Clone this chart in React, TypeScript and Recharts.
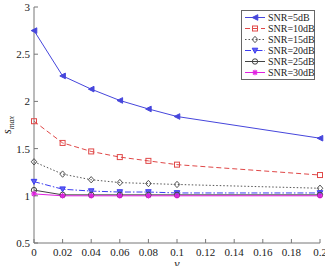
import React from 'react';
import { LineChart, Line, XAxis, YAxis, Label } from 'recharts';

const nu = [0, 0.02, 0.04, 0.06, 0.08, 0.1, 0.2];
const snr5 = [2.75, 2.27, 2.13, 2.01, 1.92, 1.84, 1.61];
const snr10 = [1.79, 1.56, 1.47, 1.41, 1.37, 1.33, 1.22];
const snr15 = [1.36, 1.23, 1.17, 1.14, 1.13, 1.12, 1.08];
const snr20 = [1.15, 1.07, 1.05, 1.04, 1.04, 1.03, 1.03];
const snr25 = [1.06, 1.01, 1.01, 1.01, 1.01, 1.01, 1.01];
const snr30 = [1.02, 1.0, 1.0, 1.0, 1.0, 1.0, 1.0];

const xTicks = [0, 0.02, 0.04, 0.06, 0.08, 0.1, 0.12, 0.14, 0.16, 0.18, 0.2];
const yTicks = [0.5, 1, 1.5, 2, 2.5, 3];

const data = nu.map((v, i) => ({
  nu: v,
  s5: snr5[i],
  s10: snr10[i],
  s15: snr15[i],
  s20: snr20[i],
  s25: snr25[i],
  s30: snr30[i],
}));

type Shape = 'left' | 'square' | 'diamond' | 'down' | 'circle' | 'star';

const SERIES: { key: string; name: string; color: string; dash?: string; shape: Shape; fill: string }[] = [
  { key: 's5', name: 'SNR=5dB', color: '#4646dc', shape: 'left', fill: '#4646dc' },
  { key: 's10', name: 'SNR=10dB', color: '#e04848', dash: '5 3', shape: 'square', fill: 'none' },
  { key: 's15', name: 'SNR=15dB', color: '#555555', dash: '1.5 2', shape: 'diamond', fill: 'none' },
  { key: 's20', name: 'SNR=20dB', color: '#3c3cf0', dash: '6 2 1.5 2', shape: 'down', fill: '#6060f0' },
  { key: 's25', name: 'SNR=25dB', color: '#444444', shape: 'circle', fill: 'none' },
  { key: 's30', name: 'SNR=30dB', color: '#e020e0', shape: 'star', fill: '#e020e0' },
];

const FONT = 'Liberation Serif';
const AXIS = '#777777';

function Marker({ cx, cy, shape, color, fill }: { cx: number; cy: number; shape: Shape; color: string; fill: string }) {
  const r = 2.8;
  if (shape === 'left')
    return <polygon points={`${cx - r},${cy} ${cx + r},${cy - r} ${cx + r},${cy + r}`} fill={fill} stroke={color} strokeWidth={1} />;
  if (shape === 'square')
    return <rect x={cx - 2.5} y={cy - 2.5} width={5} height={5} fill="none" stroke={color} strokeWidth={1} />;
  if (shape === 'diamond')
    return <polygon points={`${cx},${cy - r - 0.4} ${cx + r},${cy} ${cx},${cy + r + 0.4} ${cx - r},${cy}`} fill="none" stroke={color} strokeWidth={1} />;
  if (shape === 'down')
    return <polygon points={`${cx - r},${cy - r + 0.5} ${cx + r},${cy - r + 0.5} ${cx},${cy + r}`} fill={fill} stroke={color} strokeWidth={1} />;
  if (shape === 'circle')
    return <circle cx={cx} cy={cy} r={2.7} fill="none" stroke={color} strokeWidth={1} />;
  return (
    <g stroke={color} strokeWidth={1.2}>
      <line x1={cx - r} y1={cy} x2={cx + r} y2={cy} />
      <line x1={cx} y1={cy - r} x2={cx} y2={cy + r} />
      <line x1={cx - 2} y1={cy - 2} x2={cx + 2} y2={cy + 2} />
      <line x1={cx - 2} y1={cy + 2} x2={cx + 2} y2={cy - 2} />
    </g>
  );
}

const fmt = (v: number) => String(v);

function BottomTick(props: any) {
  const { x, y, payload } = props;
  return (
    <g>
      <line x1={x} y1={y} x2={x} y2={y - 4} stroke={AXIS} />
      <text x={x} y={y + 13} textAnchor="middle" fontFamily={FONT} fontSize={11} fill="#222">
        {fmt(payload.value)}
      </text>
    </g>
  );
}

function TopTick(props: any) {
  const { x, y } = props;
  return <line x1={x} y1={y} x2={x} y2={y + 4} stroke={AXIS} />;
}

function LeftTick(props: any) {
  const { x, y, payload } = props;
  return (
    <g>
      <line x1={x} y1={y} x2={x + 4} y2={y} stroke={AXIS} />
      <text x={x - 4} y={y + 4} textAnchor="end" fontFamily={FONT} fontSize={11} fill="#222">
        {fmt(payload.value)}
      </text>
    </g>
  );
}

function RightTick(props: any) {
  const { x, y } = props;
  return <line x1={x} y1={y} x2={x - 4} y2={y} stroke={AXIS} />;
}

// legend drawn as a plain overlay box in the upper right of the plot
function LegendBox() {
  return (
    <div
      style={{
        position: 'absolute',
        left: 241,
        top: 10,
        width: 72,
        border: '1px solid #666',
        background: '#fff',
        padding: '1px 0',
        fontFamily: FONT,
        fontSize: 10,
        lineHeight: '11px',
        color: '#222',
      }}
    >
      {SERIES.map((s) => (
        <div key={s.key} style={{ display: 'flex', alignItems: 'center', height: 11 }}>
          <svg width={26} height={11} style={{ flex: 'none' }}>
            <line x1={3} y1={5.5} x2={23} y2={5.5} stroke={s.color} strokeDasharray={s.dash} strokeWidth={1} />
            <Marker cx={13} cy={5.5} shape={s.shape} color={s.color} fill={s.fill} />
          </svg>
          <span style={{ whiteSpace: 'nowrap' }}>{s.name}</span>
        </div>
      ))}
    </div>
  );
}

export default function App() {
  return (
    <div style={{ position: 'absolute', left: 0, top: 0, width: 325, height: 266, background: '#fff', overflow: 'hidden' }}>
      <LineChart width={325} height={266} data={data} margin={{ top: 7, right: 5, left: 0, bottom: 0 }}>
        <XAxis
          dataKey="nu"
          type="number"
          domain={[0, 0.2]}
          ticks={xTicks}
          height={23}
          tickSize={0}
          tickMargin={0}
          stroke={AXIS}
          tick={<BottomTick />}
          interval={0}
        >
          <Label
            content={() => (
              <text x={177} y={268} textAnchor="middle" fontFamily={FONT} fontStyle="italic" fontSize={12} fill="#222">
                ν
              </text>
            )}
          />
        </XAxis>
        <XAxis
          xAxisId="top"
          orientation="top"
          dataKey="nu"
          type="number"
          domain={[0, 0.2]}
          ticks={xTicks}
          height={0}
          tickSize={0}
          tickMargin={0}
          stroke={AXIS}
          tick={<TopTick />}
          interval={0}
        />
        <YAxis
          type="number"
          domain={[0.5, 3]}
          ticks={yTicks}
          width={34}
          tickSize={0}
          tickMargin={0}
          stroke={AXIS}
          tick={<LeftTick />}
          interval={0}
        >
          <Label
            content={() => (
              <text transform="translate(11,125) rotate(-90)" textAnchor="middle" fontFamily={FONT} fontStyle="italic" fontSize={12} fill="#222">
                s
                <tspan fontSize={8} dy={3}>max</tspan>
              </text>
            )}
          />
        </YAxis>
        <YAxis
          yAxisId="right"
          orientation="right"
          type="number"
          domain={[0.5, 3]}
          ticks={yTicks}
          width={0}
          tickSize={0}
          tickMargin={0}
          stroke={AXIS}
          tick={<RightTick />}
          interval={0}
        />
        {SERIES.map((s) => (
          <Line
            key={s.key}
            dataKey={s.key}
            name={s.name}
            stroke={s.color}
            strokeWidth={1}
            strokeDasharray={s.dash}
            isAnimationActive={false}
            dot={(p: any) => <Marker key={`${s.key}-${p.index}`} cx={p.cx} cy={p.cy} shape={s.shape} color={s.color} fill={s.fill} />}
            activeDot={false}
          />
        ))}
      </LineChart>
      <LegendBox />
    </div>
  );
}
